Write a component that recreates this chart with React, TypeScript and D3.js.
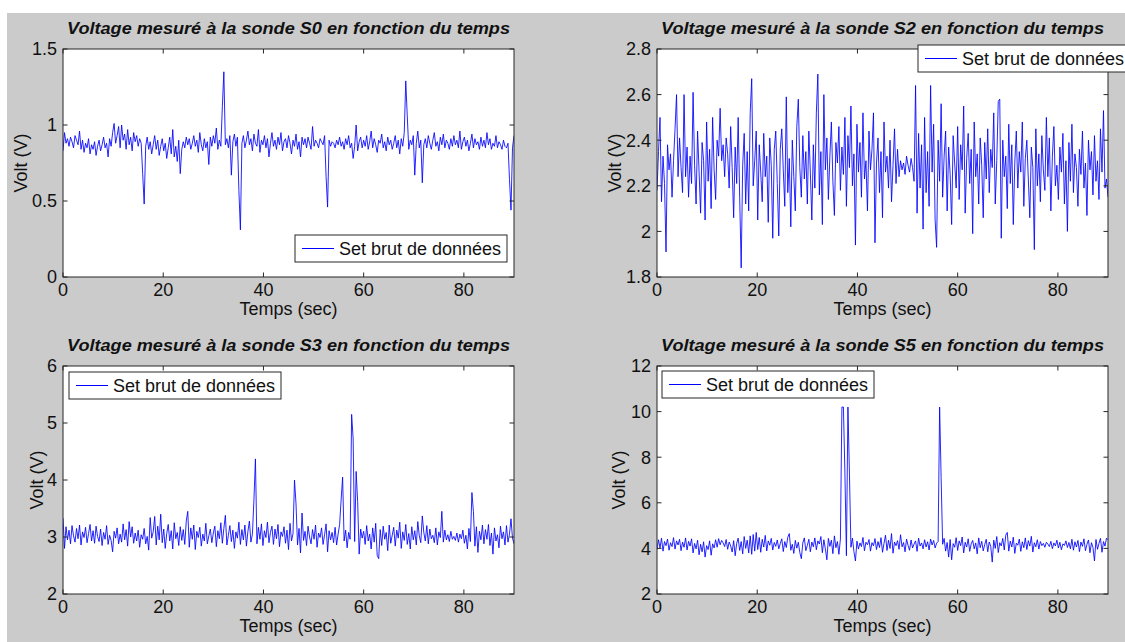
import React from "react";
import * as d3 from "d3";

// ---------- data ----------
const SAMPLE_PERIOD = 0.3; // seconds between samples
const X_DOMAIN: [number, number] = [0, 90];
const xTicks = [0, 20, 40, 60, 80];

const titles = [
  "Voltage mesuré à la sonde S0 en fonction du temps",
  "Voltage mesuré à la sonde S2 en fonction du temps",
  "Voltage mesuré à la sonde S3 en fonction du temps",
  "Voltage mesuré à la sonde S5 en fonction du temps",
];
const legendLabel = "Set brut de données";
const xLabel = "Temps (sec)";
const yLabel = "Volt (V)";

const s0Domain: [number, number] = [0, 1.5];
const s2Domain: [number, number] = [1.8, 2.8];
const s3Domain: [number, number] = [2, 6];
const s5Domain: [number, number] = [2, 12];
const s0Ticks = [0, 0.5, 1, 1.5];
const s2Ticks = [1.8, 2, 2.2, 2.4, 2.6, 2.8];
const s3Ticks = [2, 3, 4, 5, 6];
const s5Ticks = [2, 4, 6, 8, 10, 12];

const s0Values = [
  0.83,0.95,0.88,0.91,0.86,0.92,0.89,0.85,0.93,0.90,0.87,0.96,0.84,0.90,0.82,0.88,0.85,0.91,0.81,0.87,
  0.84,0.89,0.80,0.86,0.90,0.83,0.87,0.92,0.85,0.88,0.79,0.91,0.86,0.95,1.01,0.88,0.93,0.99,0.85,1.00,
  0.90,0.94,0.84,0.97,0.87,0.92,0.83,0.95,0.89,0.93,0.86,0.91,0.88,0.68,0.48,0.86,0.92,0.84,0.89,0.81,
  0.87,0.93,0.84,0.90,0.80,0.86,0.91,0.83,0.88,0.78,0.85,0.92,0.81,0.97,0.79,0.86,0.76,0.90,0.68,0.84,
  0.89,0.85,0.92,0.87,0.91,0.84,0.88,0.93,0.86,0.90,0.82,0.95,0.87,0.83,0.91,0.85,0.89,0.74,0.92,0.86,
  0.93,0.88,0.98,0.84,0.90,0.86,1.12,1.35,0.87,0.91,0.85,0.93,0.67,0.89,0.94,0.86,0.92,0.57,0.31,0.88,
  0.93,0.85,0.90,0.96,0.87,0.91,0.83,0.94,0.88,0.86,0.97,0.82,0.90,0.87,0.93,0.85,0.91,0.79,0.88,0.95,
  0.86,0.90,0.84,0.92,0.87,0.95,0.83,0.89,0.91,0.85,0.93,0.88,0.81,0.90,0.86,0.94,0.84,0.89,0.79,0.92,
  0.87,0.91,0.85,0.92,0.88,0.84,0.99,0.86,0.90,0.88,0.85,0.91,0.89,0.87,0.93,0.66,0.46,0.90,0.86,0.89,
  0.88,0.85,0.90,0.87,0.92,0.86,0.89,0.84,0.91,0.87,0.93,0.85,0.88,0.78,0.86,1.00,0.83,0.89,0.92,0.85,
  0.90,0.86,0.93,0.84,0.89,0.96,0.85,0.91,0.87,0.82,0.90,0.88,0.94,0.85,0.89,0.83,0.92,0.87,0.90,0.84,
  0.88,0.93,0.85,0.90,0.81,0.91,0.86,0.95,1.29,1.06,0.84,0.90,0.87,0.93,0.67,0.88,0.96,0.85,0.90,0.62,
  0.87,0.91,0.85,0.93,0.88,0.84,0.90,0.95,0.86,0.89,0.83,0.92,0.87,0.94,0.85,0.90,0.88,0.84,0.91,0.86,
  0.93,0.87,0.90,0.85,0.96,0.84,0.89,0.92,0.86,0.90,0.83,0.88,0.94,0.85,0.91,0.87,0.89,0.84,0.92,0.86,
  0.90,0.85,0.95,0.87,0.91,0.84,0.88,0.86,0.93,0.85,0.89,0.87,0.84,0.90,0.86,0.85,0.88,0.64,0.44,0.85,
  0.93,
];

const s2Values = [
  2.18,2.35,2.50,2.13,2.33,2.21,1.91,2.38,2.27,2.34,2.15,2.31,2.45,2.60,2.24,2.41,2.28,2.17,2.60,2.24,
  2.37,2.15,2.33,2.21,2.61,2.29,2.12,2.44,2.26,2.08,2.39,2.31,2.05,2.48,2.22,2.36,2.10,2.50,2.27,2.14,
  2.40,2.33,2.54,2.31,2.38,2.24,2.41,2.34,2.19,2.46,2.28,2.06,2.37,2.21,2.50,2.15,1.84,2.29,2.43,2.12,
  2.35,2.09,2.52,2.67,2.20,2.31,2.44,2.05,2.38,2.26,2.13,2.43,2.24,2.33,2.04,2.41,2.29,1.97,2.36,2.44,
  2.21,1.98,2.36,2.45,2.27,2.11,2.59,2.17,2.32,2.02,2.40,2.24,2.09,2.46,2.58,2.28,2.15,2.42,2.23,2.35,
  2.12,2.44,2.26,2.05,2.38,2.19,2.52,2.69,2.16,2.35,2.03,2.60,2.27,2.41,2.14,2.33,2.48,2.22,2.07,2.39,
  2.30,2.46,2.18,2.37,2.25,2.50,2.11,2.42,2.28,2.55,2.20,2.34,1.94,2.47,2.26,2.39,2.15,2.52,2.23,2.31,
  2.09,2.44,2.27,2.36,2.52,1.95,2.30,2.41,2.17,2.35,2.06,2.48,2.26,2.33,2.19,2.40,2.13,2.29,2.45,2.21,
  2.36,2.24,2.31,2.27,2.30,2.25,2.33,2.29,2.26,2.32,2.28,2.22,2.64,2.08,2.43,2.19,2.38,2.01,2.50,2.17,
  2.35,2.11,2.64,2.26,2.47,2.05,1.93,2.40,2.22,2.56,2.15,2.33,2.44,2.09,2.37,2.25,2.03,2.42,2.30,2.19,
  2.46,2.14,2.38,2.27,2.55,2.08,2.32,2.43,2.21,2.36,1.99,2.48,2.24,2.34,2.12,2.41,2.29,2.06,2.39,2.23,
  2.45,2.17,2.36,2.28,2.52,2.12,2.31,2.57,2.58,1.97,2.40,2.24,2.33,2.10,2.47,2.21,2.38,2.03,2.30,2.44,
  2.19,2.35,2.26,2.48,2.11,2.32,2.40,2.23,2.06,2.37,2.28,1.92,2.45,2.20,2.34,2.13,2.42,2.27,2.18,2.50,
  2.24,2.41,2.09,2.33,2.46,2.20,2.29,2.14,2.37,2.26,2.43,2.12,2.31,2.00,2.39,2.22,2.47,2.17,2.34,2.28,
  2.11,2.36,2.25,2.44,2.19,2.30,2.07,2.40,2.27,2.35,2.16,2.42,2.22,2.31,2.14,2.45,2.26,2.53,2.19,2.23,
  2.15,
];

const s3Values = [
  3.33,2.80,3.18,2.95,3.12,2.88,3.20,3.02,2.91,3.15,2.97,3.21,2.86,3.09,2.99,3.17,2.90,3.06,3.22,2.93,
  3.11,2.89,3.19,3.01,2.92,3.14,2.85,3.08,2.96,3.20,2.87,3.03,2.94,2.74,3.10,2.98,3.16,2.88,3.05,2.91,
  3.23,2.95,3.13,2.84,3.27,3.00,3.18,2.89,3.07,2.93,3.12,2.82,3.04,2.96,3.15,2.88,3.01,2.77,3.34,2.98,
  3.09,3.36,2.86,3.19,2.95,3.40,2.90,3.14,2.80,3.06,3.22,2.93,3.11,2.79,3.25,2.97,3.08,2.85,3.18,2.94,
  3.13,2.87,3.28,3.45,2.82,3.16,2.96,3.21,2.78,3.10,2.99,3.17,2.84,3.05,2.93,3.24,2.88,3.02,3.14,2.90,
  3.07,3.19,2.83,3.11,2.97,3.25,2.89,3.15,3.38,2.86,3.03,3.20,2.92,3.12,2.80,3.09,2.98,3.26,2.87,3.13,
  2.95,3.21,2.84,3.10,3.28,2.91,3.05,3.65,4.37,2.88,3.17,2.96,3.23,2.85,3.11,2.99,3.26,2.90,3.08,3.19,
  2.87,3.14,2.97,3.22,2.83,3.09,3.01,3.18,2.89,3.12,2.78,3.24,2.93,3.06,4.00,3.58,2.86,3.15,2.72,3.42,
  2.94,3.10,2.85,3.19,3.00,2.88,3.13,2.96,3.21,2.82,3.07,2.99,3.16,2.87,3.04,3.23,2.74,3.11,2.95,3.08,
  2.90,3.17,2.86,3.05,3.22,3.65,4.05,2.93,3.12,2.81,3.08,2.96,5.15,4.72,2.92,4.15,3.62,2.70,3.14,2.98,
  3.10,2.87,3.20,2.93,3.05,2.79,3.16,2.91,3.24,2.68,2.62,3.13,2.85,3.19,2.96,3.08,2.76,3.21,2.89,3.03,
  3.17,2.84,3.12,2.98,3.26,2.80,3.09,2.94,3.22,2.87,3.06,2.79,3.18,2.95,3.11,2.86,3.27,3.02,2.90,3.37,
  3.08,2.93,3.20,2.88,3.14,2.97,3.03,2.90,3.16,2.86,3.09,2.99,3.45,2.91,3.12,2.95,3.04,2.92,3.10,2.96,
  3.01,2.94,3.07,2.91,3.05,2.97,3.12,2.89,3.03,2.79,3.15,2.92,3.78,3.45,2.84,3.18,2.73,3.10,2.95,3.21,
  2.88,3.13,2.96,3.22,2.85,3.07,2.70,3.16,2.93,3.04,2.81,3.19,2.97,3.09,2.86,3.20,2.91,3.05,3.32,2.98,
  2.88,
];

const s5Values = [
  3.95,4.38,4.02,4.45,3.88,4.30,4.12,4.41,3.92,4.25,4.08,4.47,3.97,4.33,4.15,4.40,3.90,4.28,4.05,4.46,
  3.93,4.31,4.10,4.42,3.80,4.22,3.98,4.36,3.72,4.18,3.85,4.29,3.62,4.12,3.95,4.33,3.70,4.20,4.02,4.38,
  4.05,4.43,4.16,4.35,4.24,4.08,4.39,3.96,4.28,4.11,3.84,4.34,3.68,4.22,4.45,3.91,4.30,3.76,4.52,4.00,
  4.36,3.80,4.55,3.74,4.61,3.88,4.70,3.95,4.48,3.83,4.40,4.06,4.57,3.89,4.33,4.14,4.44,3.93,4.26,4.09,
  4.37,3.98,4.21,4.42,3.86,4.30,4.04,4.49,4.65,3.92,4.18,3.78,4.35,4.01,4.27,3.82,3.55,4.24,4.46,3.90,
  4.13,4.40,3.85,4.28,4.07,4.46,3.94,4.33,4.19,4.52,3.81,4.38,3.98,3.50,4.44,4.09,4.36,3.77,4.55,4.03,
  4.30,3.74,4.41,10.2,10.2,7.30,3.68,10.2,7.30,4.05,4.45,3.86,3.45,4.32,3.97,4.24,4.08,4.48,3.90,4.27,
  4.16,4.39,3.88,4.25,4.11,4.43,3.95,4.30,4.04,4.47,3.83,4.22,4.58,3.91,4.36,4.00,4.65,3.79,4.28,4.12,
  4.34,3.96,4.60,4.07,4.26,3.85,4.41,4.13,3.92,4.37,4.02,4.19,4.33,3.87,4.45,4.10,4.24,3.98,4.38,4.06,
  4.29,3.93,4.41,4.15,4.35,4.02,4.23,4.30,10.2,7.10,4.18,4.44,3.88,4.26,3.62,4.39,3.50,4.21,4.05,4.47,
  3.91,4.33,4.12,4.50,3.80,4.27,4.06,4.42,3.87,4.20,4.35,3.98,4.24,3.76,4.46,4.03,4.31,3.89,4.17,4.40,
  3.85,4.28,4.09,3.40,4.36,4.00,4.52,3.82,4.25,4.11,4.44,3.93,4.58,4.70,3.88,4.32,4.06,4.49,3.78,4.23,
  4.14,4.41,3.87,4.29,4.03,4.46,3.95,4.34,4.10,4.53,3.84,4.25,4.07,4.38,3.97,4.30,4.12,4.22,4.05,4.27,
  4.19,4.08,4.31,3.99,4.24,4.11,4.36,4.02,4.27,3.94,4.20,4.13,4.33,4.04,4.26,3.98,4.40,3.92,4.29,4.06,
  4.35,3.86,4.28,4.09,4.42,3.90,4.18,4.37,3.81,4.25,4.04,3.45,4.39,3.96,4.22,4.44,3.83,4.30,4.10,4.45,
  4.38,
];

// ---------- styling ----------
const FONT = "'Liberation Sans', Arial, Helvetica, sans-serif";
const FIG_BG = "#cbcbcb";
const AXIS_COLOR = "#262626";
const LINE_COLOR = "#0000ff";
const W = 1125;
const H = 642;

type PanelProps = {
  id: string;
  title: string;
  values: number[];
  domain: [number, number];
  yTicks: number[];
  left: number;
  top: number;
  width: number;
  height: number;
  yLabelX: number;
  legendX: number;
  legendY: number;
};

function Panel(p: PanelProps) {
  const x = d3.scaleLinear().domain(X_DOMAIN).range([p.left, p.left + p.width]);
  const y = d3.scaleLinear().domain(p.domain).range([p.top + p.height, p.top]);
  const line = d3
    .line<number>()
    .x((_, i) => x(i * SAMPLE_PERIOD))
    .y((d) => y(d));
  const bottom = p.top + p.height;
  const right = p.left + p.width;
  const tickLen = 4.5;
  const cx = p.left + p.width / 2;
  const cy = p.top + p.height / 2;
  const titleW = 443;
  return (
    <g>
      <defs>
        <clipPath id={`clip-${p.id}`}>
          <rect x={p.left} y={p.top} width={p.width} height={p.height} />
        </clipPath>
      </defs>
      <rect x={p.left} y={p.top} width={p.width} height={p.height} fill="#fff" />
      <path
        d={line(p.values) || ""}
        fill="none"
        stroke={LINE_COLOR}
        strokeWidth={0.85}
        clipPath={`url(#clip-${p.id})`}
      />
      {/* ticks */}
      {xTicks.map((t) => (
        <g key={`xt${t}`}>
          <line x1={x(t)} x2={x(t)} y1={bottom} y2={bottom - tickLen} stroke={AXIS_COLOR} />
          <line x1={x(t)} x2={x(t)} y1={p.top} y2={p.top + tickLen} stroke={AXIS_COLOR} />
          <text
            x={x(t)}
            y={bottom + 19}
            textAnchor="middle"
            fontSize={18}
            fontFamily={FONT}
            fill="#111"
          >
            {String(t)}
          </text>
        </g>
      ))}
      {p.yTicks.map((t) => (
        <g key={`yt${t}`}>
          <line x1={p.left} x2={p.left + tickLen} y1={y(t)} y2={y(t)} stroke={AXIS_COLOR} />
          <line x1={right} x2={right - tickLen} y1={y(t)} y2={y(t)} stroke={AXIS_COLOR} />
          <text
            x={p.left - 6}
            y={y(t)}
            dy="0.36em"
            textAnchor="end"
            fontSize={18}
            fontFamily={FONT}
            fill="#111"
          >
            {String(t)}
          </text>
        </g>
      ))}
      <rect
        x={p.left}
        y={p.top}
        width={p.width}
        height={p.height}
        fill="none"
        stroke={AXIS_COLOR}
        strokeWidth={1}
      />
      {/* title */}
      <text
        x={cx - titleW / 2}
        y={p.top - 15}
        fontSize={16}
        fontWeight="bold"
        fontStyle="italic"
        fontFamily={FONT}
        textLength={titleW}
        lengthAdjust="spacingAndGlyphs"
        fill="#111"
      >
        {p.title}
      </text>
      {/* axis labels */}
      <text
        x={cx}
        y={bottom + 38}
        textAnchor="middle"
        fontSize={18}
        fontFamily={FONT}
        fill="#111"
      >
        {xLabel}
      </text>
      <text
        transform={`translate(${p.yLabelX},${cy}) rotate(-90)`}
        textAnchor="middle"
        fontSize={18}
        fontFamily={FONT}
        fill="#111"
      >
        {yLabel}
      </text>
      {/* legend */}
      <g>
        <rect
          x={p.legendX}
          y={p.legendY}
          width={212}
          height={27}
          fill="#fff"
          stroke={AXIS_COLOR}
          strokeWidth={1}
        />
        <line
          x1={p.legendX + 7}
          x2={p.legendX + 39}
          y1={p.legendY + 13.5}
          y2={p.legendY + 13.5}
          stroke={LINE_COLOR}
          strokeWidth={1}
        />
        <text
          x={p.legendX + 44}
          y={p.legendY + 20}
          fontSize={18}
          fontFamily={FONT}
          fill="#111"
        >
          {legendLabel}
        </text>
      </g>
    </g>
  );
}

export default function App() {
  const panels: PanelProps[] = [
    { id: "s0", title: titles[0], values: s0Values, domain: s0Domain, yTicks: s0Ticks,
      left: 63, top: 49, width: 451, height: 228, yLabelX: 27, legendX: 295, legendY: 235 },
    { id: "s2", title: titles[1], values: s2Values, domain: s2Domain, yTicks: s2Ticks,
      left: 657, top: 49, width: 451, height: 228, yLabelX: 621, legendX: 918, legendY: 45 },
    { id: "s3", title: titles[2], values: s3Values, domain: s3Domain, yTicks: s3Ticks,
      left: 63, top: 366, width: 451, height: 228, yLabelX: 43, legendX: 69, legendY: 372 },
    { id: "s5", title: titles[3], values: s5Values, domain: s5Domain, yTicks: s5Ticks,
      left: 657, top: 366, width: 451, height: 228, yLabelX: 625, legendX: 662, legendY: 371 },
  ];
  return (
    <svg
      width={W}
      height={H}
      viewBox={`0 0 ${W} ${H}`}
      style={{ position: "absolute", left: 0, top: 0, display: "block" }}
    >
      <rect x={0} y={0} width={W} height={H} fill="#fff" />
      <rect x={7} y={13} width={W - 7} height={H - 13} fill={FIG_BG} />
      {panels.map((p) => (
        <Panel key={p.id} {...p} />
      ))}
    </svg>
  );
}
